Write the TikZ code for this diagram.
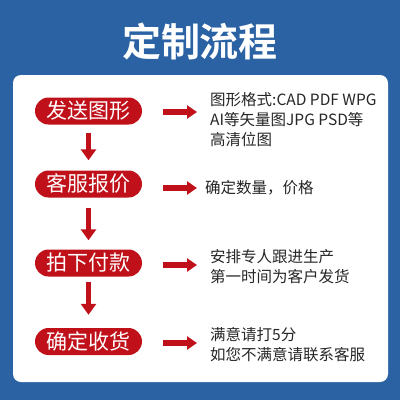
\documentclass[tikz,border=0pt]{standalone}
\usepackage{fontspec}
\newfontfamily\cjk{Noto Sans CJK SC}
\newfontfamily\cjkb{Noto Sans CJK SC Bold}
\usetikzlibrary{arrows.meta}
\definecolor{bgblue}{HTML}{2A62A4}
\definecolor{pillred}{HTML}{C0111A}
\definecolor{txt}{HTML}{262626}
\tikzset{
  pill/.style={fill=pillred, text=white, rounded corners=13.5pt, minimum width=107pt, minimum height=27pt, inner sep=0pt, font=\cjk\fontsize{21}{21}\selectfont},
  desc/.style={anchor=west, align=left, text=txt, inner sep=0pt, font=\cjk\fontsize{15.5}{20}\selectfont},
  downarr/.style={draw=pillred, line width=5.5pt, -{Triangle[length=11pt,width=15pt]}},
  rightarr/.style={draw=pillred, line width=6.5pt, -{Triangle[length=10pt,width=13pt]}}
}
\begin{document}
\begin{tikzpicture}[x=1pt,y=-1pt]
\fill[bgblue] (0,0) rectangle (400,400);
\useasboundingbox (0,0) rectangle (400,400);
\fill[white, rounded corners=8pt] (13,75) rectangle (388,382);
\node[text=white, font=\cjkb\fontsize{39}{39}\selectfont] (title) at (200,42) {定制流程};
\node[pill] (p1) at (88.5,111) {发送图形};
\node[pill] (p2) at (88.5,184) {客服报价};
\node[pill] (p3) at (88.5,263) {拍下付款};
\node[pill] (p4) at (88.5,341.5) {确定收货};
\draw[downarr, shorten <=8pt, shorten >=10pt] (p1.south) -- (p2.north);
\draw[downarr, shorten <=10pt, shorten >=9pt] (p2.south) -- (p3.north);
\draw[downarr, shorten <=5pt, shorten >=13pt] (p3.south) -- (p4.north);
\node[desc] (t1) at (210,120) {图形格式:CAD PDF WPG\\AI等矢量图JPG PSD等\\高清位图};
\node[desc] (t2) at (205,188) {确定数量，价格};
\node[desc] (t3) at (210,267) {安排专人跟进生产\\第一时间为客户发货};
\node[desc] (t4) at (210,345) {满意请打5分\\如您不满意请联系客服};
\coordinate (e1) at (197,112);
\coordinate (e2) at (197,188);
\coordinate (e3) at (197,265);
\coordinate (e4) at (197,343);
\draw[rightarr] (p1.east |- e1) ++(21,0) coordinate (s1) -- (e1);
\draw[rightarr] (p2.east |- e2) ++(21,0) coordinate (s2) -- (e2);
\draw[rightarr] (p3.east |- e3) ++(21,0) coordinate (s3) -- (e3);
\draw[rightarr] (p4.east |- e4) ++(21,0) coordinate (s4) -- (e4);
\end{tikzpicture}
\end{document}
